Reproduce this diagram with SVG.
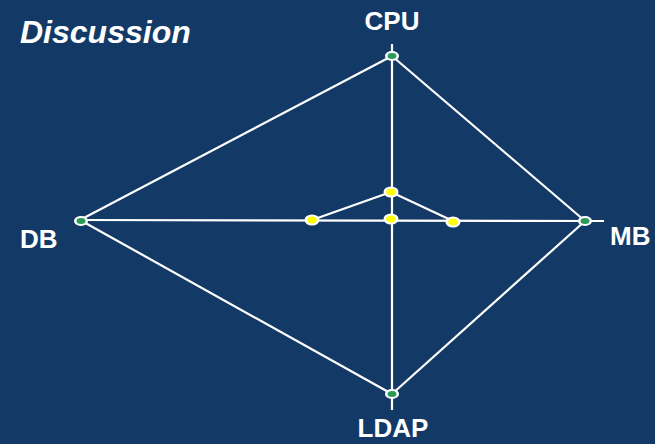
<svg xmlns="http://www.w3.org/2000/svg" width="655" height="444" viewBox="0 0 655 444">
<style>
.ln{stroke:#fff;stroke-width:2.2;fill:none}
.lbl{font-family:"Liberation Sans",Arial,sans-serif;font-weight:bold;fill:#fff;font-size:26px}
.ow{fill:#fff}
.g{fill:#2a9a58}
.y{fill:#ffff00}
</style>
<rect width="655" height="444" fill="#133a66"/>
<text x="20" y="43" class="lbl" style="font-size:32px;font-style:italic">Discussion</text>
<g id="connectors">
<line class="ln" x1="392" y1="44" x2="392" y2="410"/>
<line class="ln" x1="80" y1="220" x2="604" y2="221"/>
<line class="ln" x1="392" y1="56" x2="80" y2="220"/>
<line class="ln" x1="392" y1="56" x2="585" y2="221"/>
<line class="ln" x1="392" y1="394" x2="80" y2="220"/>
<line class="ln" x1="392" y1="394" x2="585" y2="221"/>
<line class="ln" x1="312" y1="220" x2="391" y2="192"/>
<line class="ln" x1="391" y1="192" x2="453" y2="221"/>
</g>
<g id="cpu"><ellipse class="ow" cx="392" cy="56" rx="7" ry="5"/><ellipse class="g" cx="392" cy="56" rx="4.5" ry="3"/><text class="lbl" x="392" y="30" text-anchor="middle">CPU</text></g>
<g id="db"><ellipse class="ow" cx="81" cy="221" rx="7" ry="5"/><ellipse class="g" cx="81" cy="221" rx="4.5" ry="3"/><text class="lbl" x="20" y="248">DB</text></g>
<g id="mb"><ellipse class="ow" cx="585" cy="221" rx="7" ry="5"/><ellipse class="g" cx="585" cy="221" rx="4.5" ry="3"/><text class="lbl" x="610" y="245">MB</text></g>
<g id="ldap"><ellipse class="ow" cx="392" cy="394" rx="7" ry="5"/><ellipse class="g" cx="392" cy="394" rx="4.5" ry="3"/><text class="lbl" x="393" y="437" text-anchor="middle">LDAP</text></g>
<g id="y1"><ellipse class="ow" cx="312" cy="220" rx="7.5" ry="5.5"/><ellipse class="y" cx="312" cy="220" rx="5" ry="3.5"/></g>
<g id="y2"><ellipse class="ow" cx="391" cy="192" rx="7.5" ry="5.5"/><ellipse class="y" cx="391" cy="192" rx="5" ry="3.5"/></g>
<g id="y3"><ellipse class="ow" cx="391" cy="219" rx="7.5" ry="5.5"/><ellipse class="y" cx="391" cy="219" rx="5" ry="3.5"/></g>
<g id="y4"><ellipse class="ow" cx="453" cy="222" rx="7.5" ry="5.5"/><ellipse class="y" cx="453" cy="222" rx="5" ry="3.5"/></g>
</svg>
